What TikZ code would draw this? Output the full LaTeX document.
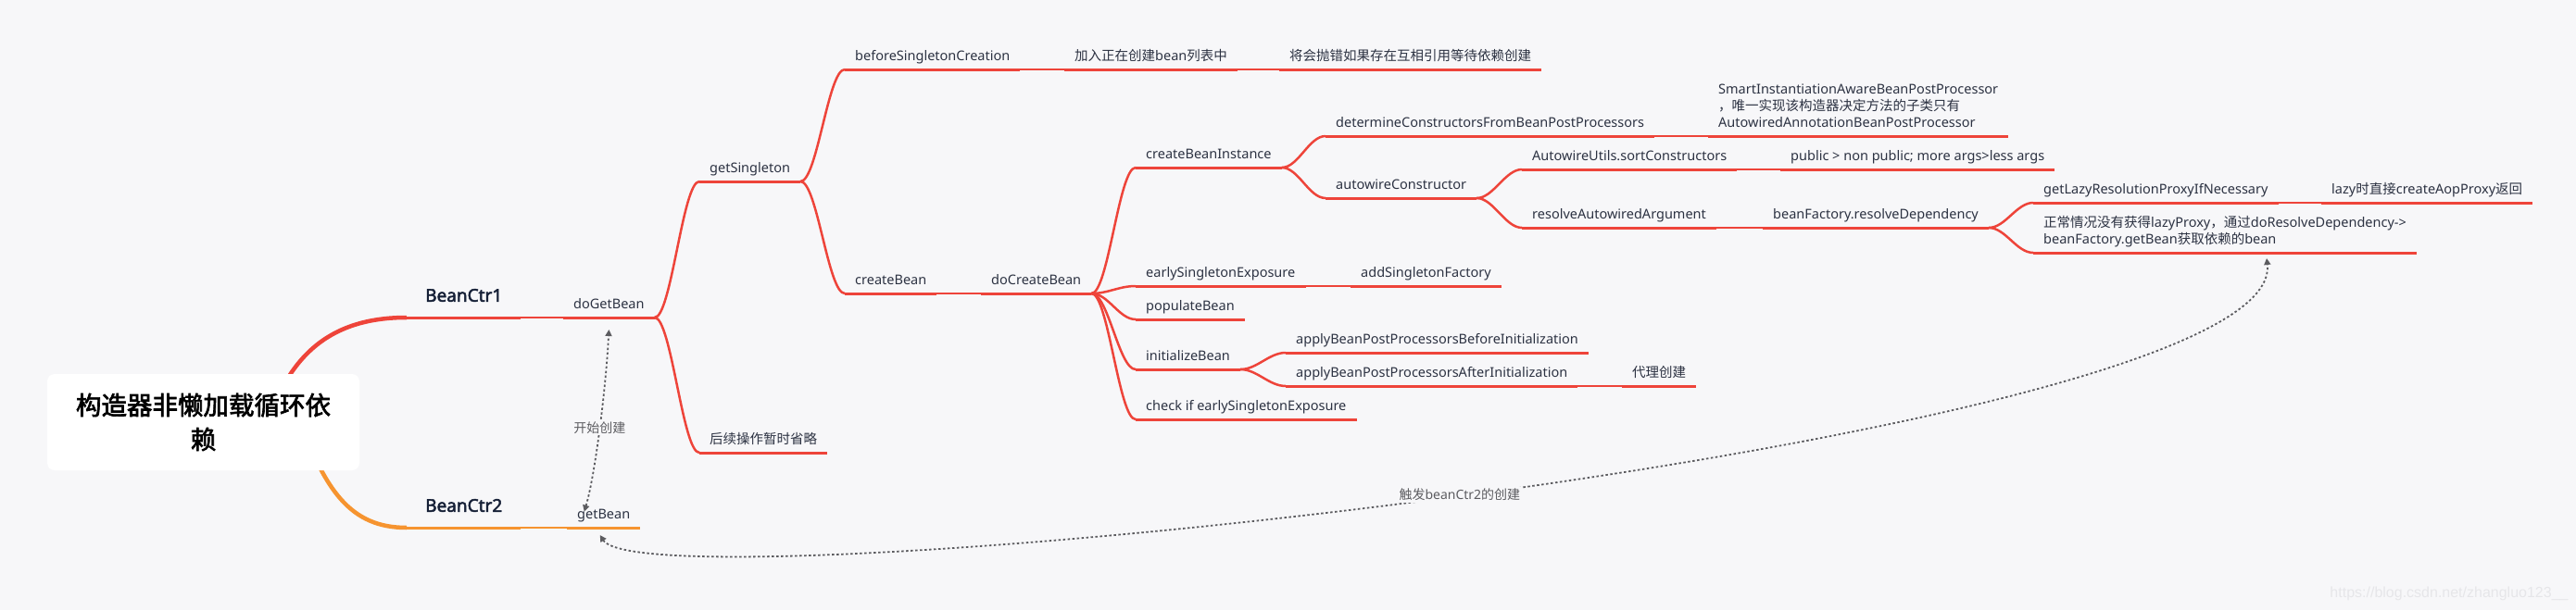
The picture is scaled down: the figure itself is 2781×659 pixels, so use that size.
\documentclass[tikz,border=0pt]{standalone}
\usepackage{fontspec}
\setmainfont{Noto Sans}[AutoFakeBold=2.5]
\newfontfamily\cjk{Noto Sans CJK SC}[AutoFakeBold=2.5]
\newfontfamily\markfont{Liberation Sans}
\usepackage{xcolor}
\usetikzlibrary{arrows.meta,positioning,calc}

\definecolor{canvas}{RGB}{247,247,249}
\definecolor{ctrred}{RGB}{238,68,58}
\definecolor{ctrorange}{RGB}{246,148,48}
\definecolor{ink}{RGB}{44,50,66}
\definecolor{navy}{RGB}{22,32,55}
\definecolor{relgray}{RGB}{92,92,96}
\definecolor{mark}{RGB}{230,230,233}

\begin{document}
\begin{tikzpicture}[
  x=1pt, y=-1pt,
  topic/.style={anchor=south west, inner xsep=11pt, inner ysep=5pt, text height=11pt, text depth=4pt, font=\fontsize{14.5}{18}\selectfont, text=ink},
  ctr/.style={topic, inner xsep=20pt, inner ysep=12pt, text height=14pt, text depth=5pt, font=\bfseries\fontsize{19}{22}\selectfont, text=navy},
  root/.style={fill=white, rounded corners=8pt, minimum width=337pt, minimum height=104pt, align=center, inner sep=0pt, font=\cjk\bfseries\fontsize{27.5}{37}\selectfont, text=black},
  trunk/.style={line width=4.5pt},
  ul/.style={line width=3pt},
  link/.style={out=0, in=180, distance=18pt, line width=2.5pt},
  rel/.style={draw=relgray, line width=1.8pt, dash pattern=on 2.5pt off 2.5pt, {Triangle[length=7pt,width=7pt]}-{Triangle[length=7pt,width=7pt]}},
  rellabel/.style={fill=canvas, text=relgray, inner sep=2pt, font=\fontsize{14}{16}\selectfont},
]
% canvas
\fill[canvas] (0,0) rectangle (2781,659);
\useasboundingbox (0,0) rectangle (2781,659);

% main branches
\coordinate (rootc) at (219.5,456);
\node[ctr] (ctrOne) at (439,343) {BeanCtr1};
\node[ctr] (ctrTwo) at (439,570) {BeanCtr2};
\draw[trunk, ctrred] ($(rootc)+(65,15)$) .. controls +(25,-90) and +(-80,0) .. (ctrOne.south west);
\draw[trunk, ctrorange] ($(rootc)+(100,-15)$) .. controls +(30,90) and +(-60,0) .. (ctrTwo.south west);
\node[root] (root) at (rootc) {构造器非懒加载循环依\\赖};

% BeanCtr1
\node[topic] (doGetBean) at (608,343) {doGetBean};
\node[topic] (getSingleton) at (755,196) {getSingleton};
\node[topic] (later) at (755,489) {\cjk 后续操作暂时省略};
\node[topic] (beforeCreation) at (912,75) {beforeSingletonCreation};
\node[topic] (inCreation) at (1149,75) {{\cjk 加入正在创建}bean{\cjk 列表中}};
\node[topic] (throwHint) at (1381,75) {\cjk 将会抛错如果存在互相引用等待依赖创建};
\node[topic] (createBean) at (912,317) {createBean};
\node[topic] (doCreateBean) at (1059,317) {doCreateBean};
\node[topic] (createInstance) at (1226,181) {createBeanInstance};
\node[topic] (determineCtors) at (1431,147) {determineConstructorsFromBeanPostProcessors};
\node[topic, align=left] (smartHint) at (1844,147) {SmartInstantiationAwareBeanPostProcessor\\{\cjk ，唯一实现该构造器决定方法的子类只有}\\AutowiredAnnotationBeanPostProcessor};
\node[topic] (autowireCtor) at (1431,214) {autowireConstructor};
\node[topic] (sortCtors) at (1643,183) {AutowireUtils.sortConstructors};
\node[topic] (sortRule) at (1922,183) {public > non public; more args>less args};
\node[topic] (resolveArg) at (1643,246) {resolveAutowiredArgument};
\node[topic] (resolveDep) at (1903,246) {beanFactory.resolveDependency};
\node[topic] (lazyProxy) at (2195,219) {getLazyResolutionProxyIfNecessary};
\node[topic] (lazyReturn) at (2506,219) {lazy{\cjk 时直接}createAopProxy{\cjk 返回}};
\node[topic, align=left] (normalPath) at (2195,273) {{\cjk 正常情况没有获得}lazyProxy{\cjk ，通过}doResolveDependency->\\beanFactory.getBean{\cjk 获取依赖的}bean};
\node[topic] (earlyExpose) at (1226,309) {earlySingletonExposure};
\node[topic] (addFactory) at (1458,309) {addSingletonFactory};
\node[topic] (populate) at (1226,345) {populateBean};
\node[topic] (initBean) at (1226,399) {initializeBean};
\node[topic] (beforeInit) at (1388,381) {applyBeanPostProcessorsBeforeInitialization};
\node[topic] (afterInit) at (1388,417) {applyBeanPostProcessorsAfterInitialization};
\node[topic] (proxyCreate) at (1751,417) {\cjk 代理创建};
\node[topic] (checkEarly) at (1226,453) {check if earlySingletonExposure};

% BeanCtr2
\node[topic] (getBean) at (612,570) {getBean};

% underlines
\foreach \n in {ctrOne,doGetBean,getSingleton,later,beforeCreation,inCreation,throwHint,createBean,doCreateBean,createInstance,determineCtors,smartHint,autowireCtor,sortCtors,sortRule,resolveArg,resolveDep,lazyProxy,lazyReturn,normalPath,earlyExpose,addFactory,populate,initBean,beforeInit,afterInit,proxyCreate,checkEarly}
  \draw[ul, ctrred] (\n.south west) -- (\n.south east);
\foreach \n in {ctrTwo,getBean}
  \draw[ul, ctrorange] (\n.south west) -- (\n.south east);

% links
\draw[link, ctrred] (ctrOne.south east) to (doGetBean.south west);
\draw[link, ctrred] (doGetBean.south east) to (getSingleton.south west);
\draw[link, ctrred] (doGetBean.south east) to (later.south west);
\draw[link, ctrred] (getSingleton.south east) to (beforeCreation.south west);
\draw[link, ctrred] (getSingleton.south east) to (createBean.south west);
\draw[link, ctrred] (beforeCreation.south east) to (inCreation.south west);
\draw[link, ctrred] (inCreation.south east) to (throwHint.south west);
\draw[link, ctrred] (createBean.south east) to (doCreateBean.south west);
\draw[link, ctrred] (doCreateBean.south east) to (createInstance.south west);
\draw[link, ctrred] (doCreateBean.south east) to (earlyExpose.south west);
\draw[link, ctrred] (doCreateBean.south east) to (populate.south west);
\draw[link, ctrred] (doCreateBean.south east) to (initBean.south west);
\draw[link, ctrred] (doCreateBean.south east) to (checkEarly.south west);
\draw[link, ctrred] (createInstance.south east) to (determineCtors.south west);
\draw[link, ctrred] (createInstance.south east) to (autowireCtor.south west);
\draw[link, ctrred] (determineCtors.south east) to (smartHint.south west);
\draw[link, ctrred] (autowireCtor.south east) to (sortCtors.south west);
\draw[link, ctrred] (autowireCtor.south east) to (resolveArg.south west);
\draw[link, ctrred] (sortCtors.south east) to (sortRule.south west);
\draw[link, ctrred] (resolveArg.south east) to (resolveDep.south west);
\draw[link, ctrred] (resolveDep.south east) to (lazyProxy.south west);
\draw[link, ctrred] (resolveDep.south east) to (normalPath.south west);
\draw[link, ctrred] (lazyProxy.south east) to (lazyReturn.south west);
\draw[link, ctrred] (earlyExpose.south east) to (addFactory.south west);
\draw[link, ctrred] (initBean.south east) to (beforeInit.south west);
\draw[link, ctrred] (initBean.south east) to (afterInit.south west);
\draw[link, ctrred] (afterInit.south east) to (proxyCreate.south west);
\draw[link, ctrorange] (ctrTwo.south east) to (getBean.south west);

% relations
\draw[rel] ([xshift=-21pt,yshift=-8pt]getBean.north) .. controls +(12,-40) and +(-3,60) .. ([yshift=-13pt]doGetBean.south)
  node[rellabel, pos=0.5] (startLabel) {\cjk 开始创建};
\draw[rel] ([xshift=-4pt,yshift=-8pt]getBean.south) .. controls +(53,82) and +(23,200) .. ([xshift=252pt,yshift=-6pt]normalPath.south west)
  node[rellabel, pos=0.5] (triggerLabel) {{\cjk 触发}beanCtr2{\cjk 的创建}};

\node[font=\markfont\fontsize{16}{18}\selectfont, text=mark] (watermark) at (2644,641) {https://blog.csdn.net/zhangluo123\_\_};
\end{tikzpicture}
\end{document}
